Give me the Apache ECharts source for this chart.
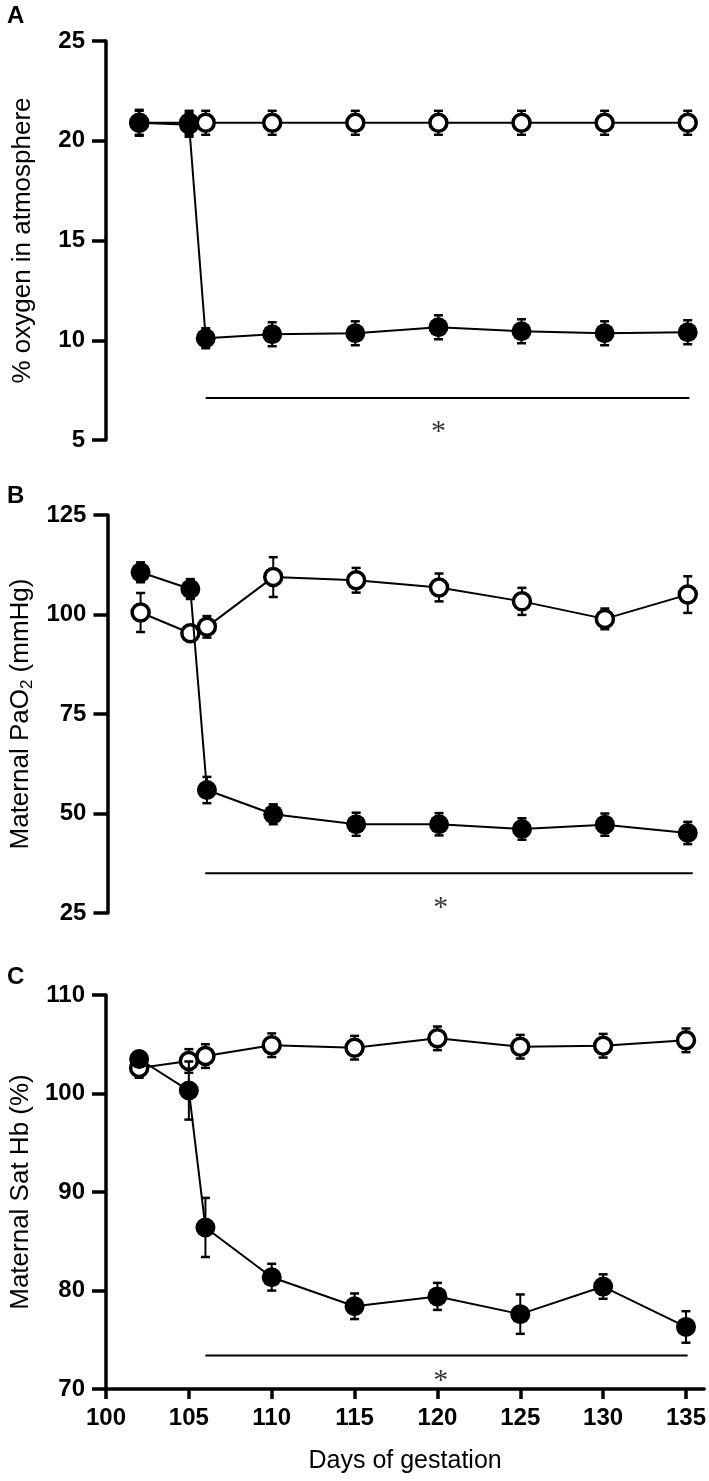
<!DOCTYPE html>
<html>
<head>
<meta charset="utf-8">
<script src="https://cdn.jsdelivr.net/npm/echarts@6/dist/echarts.min.js"></script>
<style>
html,body{margin:0;padding:0;background:#fff;}
#c{width:709px;height:1481px;}
</style>
</head>
<body>
<div id="c"></div>
<script>
// ---- data ----
const days = [102, 105, 106, 110, 115, 120, 125, 130, 135];
const xTicks = [100, 105, 110, 115, 120, 125, 130, 135];

// Panel A: % oxygen in atmosphere
const aOpen      = [20.9, 20.9, 20.9, 20.9, 20.9, 20.9, 20.9, 20.9, 20.9];
const aOpenErr   = [0.6, 0.6, 0.6, 0.6, 0.6, 0.6, 0.6, 0.6, 0.6];
const aFilled    = [20.9, 20.8, 10.1, 10.3, 10.35, 10.65, 10.45, 10.35, 10.4];
const aFilledErr = [0.65, 0.6, 0.5, 0.6, 0.6, 0.6, 0.6, 0.6, 0.6];
const aSig = [[106, 7.1], [135.1, 7.1]];
const aStar = [[120, 5.65]];
const aTicks = [5, 10, 15, 20, 25];

// Panel B: Maternal PaO2
const bOpen      = [100.5, 95.3, 96.9, 109.4, 108.6, 106.8, 103.3, 98.9, 105.0];
const bOpenErr   = [4.9, 1.0, 2.7, 5.0, 3.1, 3.5, 3.4, 2.6, 4.6];
const bFilled    = [110.6, 106.4, 55.9, 49.8, 47.3, 47.3, 46.1, 47.2, 45.1];
const bFilledErr = [2.5, 2.5, 3.3, 2.5, 2.9, 2.8, 2.7, 2.8, 2.8];
const bSig = [[105.9, 35.0], [135.3, 35.0]];
const bStar = [[120.1, 27.4]];
const bTicks = [25, 50, 75, 100, 125];

// Panel C: Maternal Sat Hb
const cOpen      = [102.6, 103.3, 103.8, 104.9, 104.65, 105.6, 104.75, 104.85, 105.4];
const cOpenErr   = [1.0, 1.2, 1.2, 1.2, 1.2, 1.2, 1.2, 1.2, 1.2];
const cFilled    = [103.5, 100.3, 86.4, 81.35, 78.4, 79.4, 77.6, 80.4, 76.3];
const cFilledErr = [0.5, 2.95, 3.0, 1.36, 1.3, 1.37, 2.0, 1.24, 1.6];
const cSig = [[106, 73.4], [135.1, 73.4]];
const cStar = [[120.2, 71.3]];
const cTicks = [70, 80, 90, 100, 110];

// ---- build ----
const FONT = 'Liberation Sans, Arial, Helvetica, sans-serif';
const pairs = (v) => days.map((d, i) => [d, v[i]]);
const errs = (v, e) => days.map((d, i) => [d, v[i] - e[i], v[i] + e[i]]);

function errRender(params, api) {
  const x = api.value(0), lo = api.value(1), hi = api.value(2);
  const p1 = api.coord([x, hi]), p2 = api.coord([x, lo]);
  const w = 4.5;
  const st = {stroke: '#000', lineWidth: 2};
  return {type: 'group', children: [
    {type: 'line', shape: {x1: p1[0], y1: p1[1], x2: p2[0], y2: p2[1]}, style: st},
    {type: 'line', shape: {x1: p1[0] - w, y1: p1[1], x2: p1[0] + w, y2: p1[1]}, style: {stroke: '#000', lineWidth: 2.5}},
    {type: 'line', shape: {x1: p2[0] - w, y1: p2[1], x2: p2[0] + w, y2: p2[1]}, style: {stroke: '#000', lineWidth: 2.5}}
  ]};
}

const grids = [
  {left: 106, right: 3, top: 41, height: 399},
  {left: 106, right: 3, top: 515, height: 398},
  {left: 106, right: 3, top: 995, height: 394}
];

const axisLineStyle = {color: '#000', width: 3.5};

const xAxes = [0, 1, 2].map(i => ({
  type: 'value', gridIndex: i, min: 100, max: 136.1, interval: 5,
  show: i === 2,
  splitLine: {show: false},
  axisLine: {show: true, lineStyle: axisLineStyle},
  axisTick: {show: true, length: 10, lineStyle: {color: '#000', width: 3.5}, customValues: xTicks},
  axisLabel: {show: true, customValues: xTicks, color: '#000', fontFamily: FONT, fontWeight: 'bold', fontSize: 24, margin: 17},
  name: i === 2 ? 'Days of gestation' : '',
  nameLocation: 'middle', nameGap: 60,
  nameTextStyle: {color: '#000', fontFamily: FONT, fontSize: 25}
}));

const yCfg = [
  {min: 5, max: 25, interval: 5, ticks: aTicks, name: '% oxygen in atmosphere'},
  {min: 25, max: 125, interval: 25, ticks: bTicks, name: 'Maternal PaO{sub|2} (mmHg)'},
  {min: 70, max: 110, interval: 10, ticks: cTicks, name: 'Maternal Sat Hb (%)'}
];
const yAxes = yCfg.map((c, i) => ({
  type: 'value', gridIndex: i, min: c.min, max: c.max, interval: c.interval,
  splitLine: {show: false},
  axisLine: {show: true, lineStyle: axisLineStyle},
  axisTick: {show: true, length: 14, lineStyle: {color: '#000', width: 3.5}, customValues: c.ticks},
  axisLabel: {customValues: c.ticks, color: '#000', fontFamily: FONT, fontWeight: 'bold', fontSize: 24, margin: 21},
  name: c.name, nameLocation: 'middle', nameGap: 70, nameRotate: 90,
  nameTextStyle: {color: '#000', fontFamily: FONT, fontSize: 26,
    rich: {sub: {fontFamily: FONT, fontSize: 17, color: '#000', padding: [12, 0, 0, 0]}}}
}));

const panels = [
  [aOpen, aOpenErr, aFilled, aFilledErr, aSig, aStar],
  [bOpen, bOpenErr, bFilled, bFilledErr, bSig, bStar],
  [cOpen, cOpenErr, cFilled, cFilledErr, cSig, cStar]
];

const series = [];
panels.forEach((p, i) => {
  const [op, ope, fi, fie, sig, star] = p;
  series.push({type: 'line', xAxisIndex: i, yAxisIndex: i, data: sig, symbol: 'none',
    lineStyle: {color: '#000', width: 2}, z: 1, silent: true, animation: false});
  series.push({type: 'scatter', xAxisIndex: i, yAxisIndex: i, data: star, symbolSize: 1,
    itemStyle: {color: 'rgba(0,0,0,0)'},
    label: {show: true, position: 'inside', formatter: '*', color: '#000', fontFamily: 'Liberation Serif, Times New Roman, serif', fontSize: 30, offset: [0, 5]},
    z: 1, animation: false});
  series.push({type: 'custom', xAxisIndex: i, yAxisIndex: i, data: errs(op, ope), renderItem: errRender,
    encode: {x: 0, y: [1, 2]}, z: 2, animation: false});
  series.push({type: 'line', xAxisIndex: i, yAxisIndex: i, data: pairs(op), symbol: 'circle', symbolSize: 17,
    itemStyle: {color: '#fff', borderColor: '#000', borderWidth: 3.5},
    lineStyle: {color: '#000', width: 2}, z: 3, animation: false});
  series.push({type: 'custom', xAxisIndex: i, yAxisIndex: i, data: errs(fi, fie), renderItem: errRender,
    encode: {x: 0, y: [1, 2]}, z: 4, animation: false});
  series.push({type: 'line', xAxisIndex: i, yAxisIndex: i, data: pairs(fi), symbol: 'circle', symbolSize: 20,
    itemStyle: {color: '#000', borderColor: '#000', borderWidth: 0},
    lineStyle: {color: '#000', width: 2}, z: 5, animation: false});
});

const letterStyle = {fill: '#000', font: 'bold 24px ' + FONT};
const option = {
  backgroundColor: '#fff',
  animation: false,
  grid: grids,
  xAxis: xAxes,
  yAxis: yAxes,
  series: series,
  graphic: [
    {type: 'text', left: 7, top: 4, style: Object.assign({text: 'A'}, letterStyle)},
    {type: 'text', left: 7, top: 484, style: Object.assign({text: 'B'}, letterStyle)},
    {type: 'text', left: 7, top: 965, style: Object.assign({text: 'C'}, letterStyle)}
  ]
};

const chart = echarts.init(document.getElementById('c'), null, {renderer: 'canvas'});
chart.setOption(option);
</script>
</body>
</html>
